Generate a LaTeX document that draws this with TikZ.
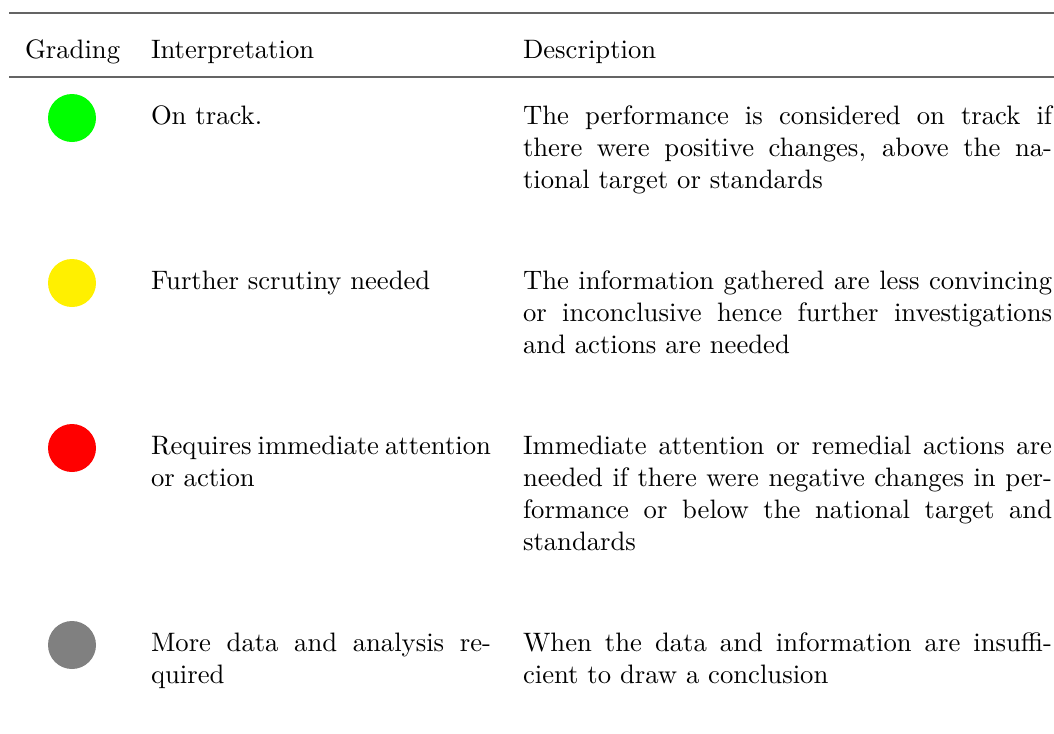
\documentclass[tikz,border=0pt]{standalone}
\setlength{\parindent}{0pt}
\definecolor{gradegreen}{RGB}{0,255,0}
\definecolor{gradeyellow}{RGB}{255,240,0}
\definecolor{gradered}{RGB}{255,0,0}
\definecolor{gradegray}{RGB}{128,128,128}
\definecolor{rulecol}{RGB}{100,100,100}
\begin{document}
\begin{tikzpicture}[x=0.375pt,y=-0.375pt,
  every node/.style={font=\fontsize{10}{12}\selectfont, inner sep=0pt, outer sep=0pt},
  head/.style={anchor=base west},
  interp/.style={anchor=base west, text width=127.5pt, align=justify},
  descr/.style={anchor=base west, text width=198.4pt, align=justify},
  dot/.style={circle, minimum size=18pt, inner sep=0pt},
  tabrule/.style={draw=rulecol, line width=0.7pt}]
\useasboundingbox (0,0) rectangle (1054,733);
\coordinate (r1a) at (9,13);
\coordinate (r1b) at (1054,13);
\coordinate (r2a) at (9,77);
\coordinate (r2b) at (1054,77);
\draw[tabrule] (r1a) -- (r1b);
\draw[tabrule] (r2a) -- (r2b);
\node[head] (hg) at (25,58) {Grading};
\node[head] (hi) at (151,58) {Interpretation};
\node[head] (hd) at (523,58) {Description};

\node[dot, fill=gradegreen] (c1) at (72,118) {};
\node[interp] (i1) at (151,124) {On track.};
\node[descr] (d1) at (523,124) {The performance is considered on track if there were positive changes, above the national target or standards};

\node[dot, fill=gradeyellow] (c2) at (72,283) {};
\node[interp] (i2) at (151,289) {Further scrutiny needed};
\node[descr] (d2) at (523,289) {The information gathered are less convincing or inconclusive hence further investigations and actions are needed};

\node[dot, fill=gradered] (c3) at (72,448) {};
\node[interp] (i3) at (151,454) {Requires immediate attention or action};
\node[descr] (d3) at (523,454) {Immediate attention or remedial actions are needed if there were negative changes in performance or below the national target and standards};

\node[dot, fill=gradegray] (c4) at (72,645) {};
\node[interp] (i4) at (151,651) {More data and analysis required};
\node[descr] (d4) at (523,651) {When the data and information are insufficient to draw a conclusion};
\end{tikzpicture}
\end{document}
